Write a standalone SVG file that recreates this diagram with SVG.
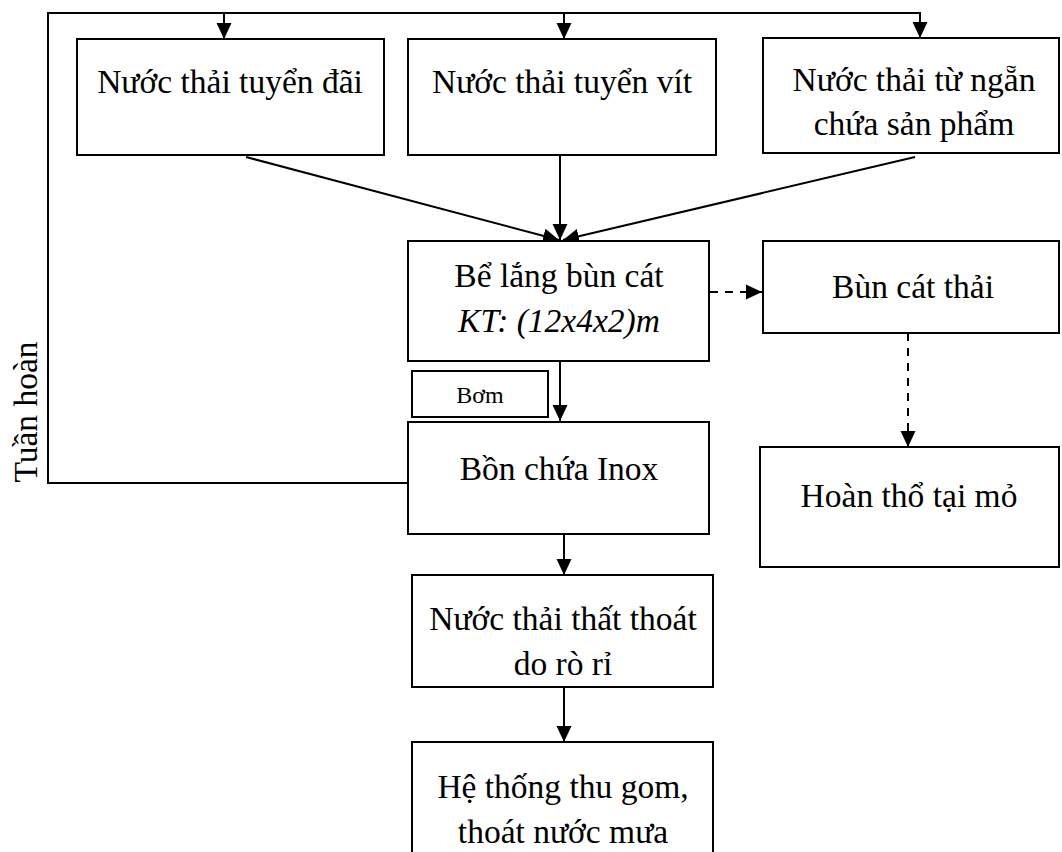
<svg xmlns="http://www.w3.org/2000/svg" width="1062" height="852" viewBox="0 0 1062 852">
<style>
.box{fill:#fff;stroke:#000;stroke-width:2}
.t{font-family:"Liberation Serif","Times New Roman",serif;font-size:33.5px;fill:#000;text-anchor:middle}
.s{font-size:24px}
.i{font-style:italic}
.ln{fill:none;stroke:#000;stroke-width:2}
.dash{stroke-dasharray:8 7}
</style>
<defs>
<marker id="ah" viewBox="0 0 16 16" refX="16" refY="8" markerWidth="16" markerHeight="16" markerUnits="userSpaceOnUse" orient="auto">
<path d="M0,0.5 L16,8 L0,15.5 z" fill="#000"/>
</marker>
</defs>
<rect width="1062" height="852" fill="#fff"/>
<g id="connectors">
<path class="ln" d="M408,483 H48 V13 H920 V38" marker-end="url(#ah)"/>
<line class="ln" x1="224" y1="13" x2="224" y2="39" marker-end="url(#ah)"/>
<line class="ln" x1="564" y1="13" x2="564" y2="39" marker-end="url(#ah)"/>
<line class="ln" x1="246" y1="157" x2="559" y2="240" marker-end="url(#ah)"/>
<line class="ln" x1="560" y1="156" x2="560" y2="240" marker-end="url(#ah)"/>
<line class="ln" x1="915" y1="157" x2="563" y2="240" marker-end="url(#ah)"/>
<line class="ln dash" x1="710" y1="292" x2="762" y2="292" marker-end="url(#ah)"/>
<line class="ln dash" x1="908" y1="333" x2="908" y2="447" marker-end="url(#ah)"/>
<line class="ln" x1="560" y1="361" x2="560" y2="421" marker-end="url(#ah)"/>
<line class="ln" x1="564" y1="534" x2="564" y2="575" marker-end="url(#ah)"/>
<line class="ln" x1="564" y1="687" x2="564" y2="742" marker-end="url(#ah)"/>
</g>
<text class="t" x="37" y="412" transform="rotate(-90 37 412)">Tuần hoàn</text>
<g id="n1">
<rect class="box" x="77" y="39" width="307" height="116"/>
<text class="t" x="230" y="93">Nước thải tuyển đãi</text>
</g>
<g id="n2">
<rect class="box" x="408" y="39" width="308" height="116"/>
<text class="t" x="562" y="93">Nước thải tuyển vít</text>
</g>
<g id="n3">
<rect class="box" x="763" y="38" width="296" height="115"/>
<text class="t" x="914" y="91">Nước thải từ ngẵn</text>
<text class="t" x="914" y="135">chứa sản phẩm</text>
</g>
<g id="n4">
<rect class="box" x="408" y="241" width="301" height="120"/>
<text class="t" x="559" y="287">Bể lắng bùn cát</text>
<text class="t i" x="559" y="332">KT: (12x4x2)m</text>
</g>
<g id="n5">
<rect class="box" x="763" y="241" width="296" height="92"/>
<text class="t" x="913" y="298">Bùn cát thải</text>
</g>
<g id="n6">
<rect class="box" x="412" y="371" width="136" height="46"/>
<text class="t s" x="480" y="403">Bơm</text>
</g>
<g id="n7">
<rect class="box" x="408" y="422" width="301" height="112"/>
<text class="t" x="559" y="480">Bồn chứa Inox</text>
</g>
<g id="n8">
<rect class="box" x="760" y="447" width="299" height="120"/>
<text class="t" x="909" y="507">Hoàn thổ tại mỏ</text>
</g>
<g id="n9">
<rect class="box" x="412" y="575" width="301" height="112"/>
<text class="t" x="563" y="630">Nước thải thất thoát</text>
<text class="t" x="563" y="675">do rò rỉ</text>
</g>
<g id="n10">
<rect class="box" x="412" y="742" width="301" height="120"/>
<text class="t" x="563" y="798">Hệ thống thu gom,</text>
<text class="t" x="563" y="843">thoát nước mưa</text>
</g>
</svg>
